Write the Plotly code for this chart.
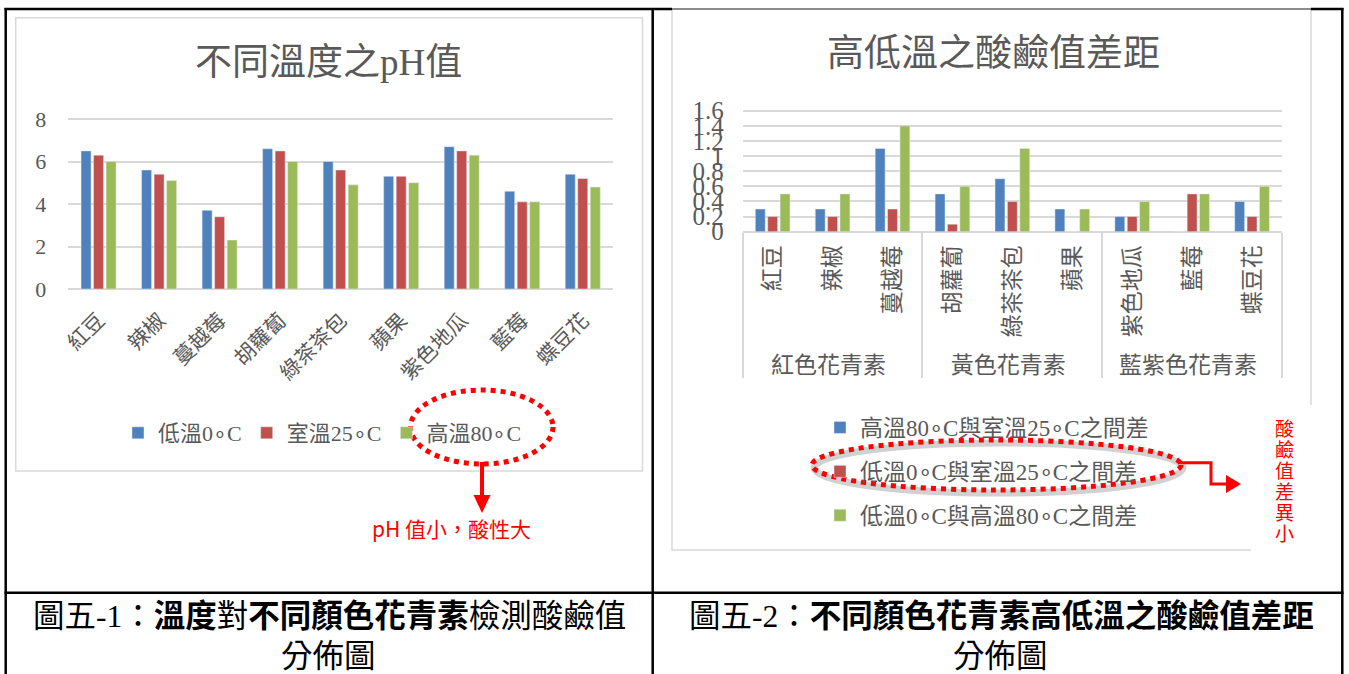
import plotly.graph_objects as go

W, H = 1349, 674

def px(x):
    return x / W

def py(y):
    return 1 - y / H

# ---------------- data ----------------
categories = ["紅豆", "辣椒", "蔓越莓", "胡蘿蔔", "綠茶茶包", "蘋果", "紫色地瓜", "藍莓", "蝶豆花"]
groups = ["紅色花青素"] * 3 + ["黃色花青素"] * 3 + ["藍紫色花青素"] * 3

ph_low = [6.5, 5.6, 3.7, 6.6, 6.0, 5.3, 6.7, 4.6, 5.4]
ph_room = [6.3, 5.4, 3.4, 6.5, 5.6, 5.3, 6.5, 4.1, 5.2]
ph_high = [6.0, 5.1, 2.3, 6.0, 4.9, 5.0, 6.3, 4.1, 4.8]

diff_high_room = [0.3, 0.3, 1.1, 0.5, 0.7, 0.3, 0.2, 0.0, 0.4]
diff_low_room = [0.2, 0.2, 0.3, 0.1, 0.4, 0.0, 0.2, 0.5, 0.2]
diff_low_high = [0.5, 0.5, 1.4, 0.6, 1.1, 0.3, 0.4, 0.5, 0.6]

names_left = ["低溫0∘C", "室溫25∘C", "高溫80∘C"]
names_right = ["高溫80∘C與室溫25∘C之間差", "低溫0∘C與室溫25∘C之間差", "低溫0∘C與高溫80∘C之間差"]
colors = ["#4f81bd", "#c0504d", "#9bbb59"]

FONT = "Liberation Serif, Noto Sans CJK TC, serif"
GRAY = "#595959"
GRID = "#d9d9d9"

fig = go.Figure()

for name, vals, c in zip(names_left, [ph_low, ph_room, ph_high], colors):
    fig.add_trace(go.Bar(x=categories, y=vals, name=name, marker_color=c,
                         xaxis="x", yaxis="y", legend="legend", hoverinfo="skip"))

for i, (name, vals, c) in enumerate(zip(names_right, [diff_high_room, diff_low_room, diff_low_high], colors)):
    fig.add_trace(go.Bar(x=[groups, categories], y=vals, name=name, marker_color=c,
                         xaxis="x2", yaxis="y2", legend="legend2", legendgroup=f"g{i}",
                         hoverinfo="skip"))

shapes = []

def line(x0, y0, x1, y1, color="black", width=2.5, dash=None):
    d = dict(type="line", xref="paper", yref="paper", x0=px(x0), y0=py(y0), x1=px(x1), y1=py(y1),
             line=dict(color=color, width=width))
    if dash:
        d["line"]["dash"] = dash
    shapes.append(d)

# chart frames
shapes.append(dict(type="rect", xref="paper", yref="paper", x0=px(15.7), y0=py(471), x1=px(642.5), y1=py(17.7),
                   line=dict(color=GRID, width=1.5), layer="below"))
shapes.append(dict(type="rect", xref="paper", yref="paper", x0=px(672), y0=py(550), x1=px(1311), y1=py(9),
                   line=dict(color=GRID, width=1.5), layer="below"))
# white cover for the red side note
shapes.append(dict(type="rect", xref="paper", yref="paper", x0=px(1251), y0=py(562), x1=px(1330), y1=py(405),
                   line=dict(width=0), fillcolor="white"))
line(672, 9, 1311, 9, color="#8c8c8c", width=2)

# table lines
line(4.5, 9, 672, 9)
line(1311, 9, 1343.5, 9)
line(5.7, 8, 5.7, 674)
line(652.7, 8, 652.7, 674)
line(1342.3, 8, 1342.3, 674)
line(4.5, 592.7, 1343.5, 592.7)

# left dotted ellipse + arrow
shapes.append(dict(type="circle", xref="paper", yref="paper", x0=px(410.5), x1=px(553), y0=py(464), y1=py(390),
                   line=dict(color="red", width=5, dash="dot")))
line(482, 462, 482, 497, color="red", width=4)
shapes.append(dict(type="path", xref="paper", yref="paper",
                   path=f"M {px(473.5)} {py(495)} L {px(490.5)} {py(495)} L {px(482)} {py(513)} Z",
                   fillcolor="red", line=dict(width=0)))

# right dotted ellipse (with soft shadow) + elbow arrow
shapes.append(dict(type="circle", xref="paper", yref="paper", x0=px(814), x1=px(1183), y0=py(493), y1=py(443),
                   line=dict(color="rgba(0,0,0,0.18)", width=7)))
shapes.append(dict(type="circle", xref="paper", yref="paper", x0=px(812), x1=px(1181), y0=py(490), y1=py(440),
                   line=dict(color="red", width=5, dash="dot")))
shapes.append(dict(type="path", xref="paper", yref="paper",
                   path=f"M {px(1178)} {py(462.7)} L {px(1211)} {py(462.7)} L {px(1211)} {py(484)} L {px(1228)} {py(484)}",
                   line=dict(color="red", width=3)))
shapes.append(dict(type="path", xref="paper", yref="paper",
                   path=f"M {px(1226)} {py(475)} L {px(1226)} {py(493)} L {px(1241)} {py(484)} Z",
                   fillcolor="red", line=dict(width=0)))

annotations = []

def text(x, y, s, size, color=GRAY, family=FONT, xanchor="center"):
    annotations.append(dict(xref="paper", yref="paper", x=px(x), y=py(y), text=s, showarrow=False,
                            xanchor=xanchor, yanchor="middle", font=dict(size=size, color=color, family=family)))

text(328, 63, "不同溫度之pH值", 37)
text(993, 54, "高低溫之酸鹼值差距", 37)
text(451, 528, "pH 值小，酸性大", 21, color="red", family="Noto Sans CJK TC, sans-serif")
for i, ch in enumerate("酸鹼值差異小"):
    text(1284, 427.5 + 21 * i, ch, 19, color="red", family="Noto Sans CJK TC, sans-serif")

text(329, 616, "圖五-1：<b>溫度</b>對<b>不同顏色花青素</b>檢測酸鹼值", 31.5, color="black")
text(328, 656, "分佈圖", 31.5, color="black")
text(1001, 616, "圖五-2：<b>不同顏色花青素高低溫之酸鹼值差距</b>", 31.5, color="black")
text(1000, 656, "分佈圖", 31.5, color="black")

# plot areas: top of each domain sits 2px above the top gridline so that line is drawn
L_TOP, L_ZERO, L_MAXV = 119, 289, 8
R_TOP, R_ZERO, R_MAXV = 110.7, 231.7, 1.6
l_range_top = L_MAXV * (L_ZERO - (L_TOP - 2)) / (L_ZERO - L_TOP)
r_range_top = R_MAXV * (R_ZERO - (R_TOP - 2)) / (R_ZERO - R_TOP)

fig.update_layout(
    width=W, height=H,
    margin=dict(l=0, r=0, t=0, b=0, pad=0, autoexpand=False),
    paper_bgcolor="white", plot_bgcolor="white",
    font=dict(family=FONT, color=GRAY),
    barmode="group", bargap=0.38, bargroupgap=0.2,
    showlegend=True,
    xaxis=dict(domain=[px(68.3), px(613)], anchor="y", type="category", tickangle=-45,
               tickfont=dict(size=21, color=GRAY), showgrid=False, showline=False, ticks="",
               ticklabelstandoff=14, automargin=False),
    yaxis=dict(domain=[py(L_ZERO), py(L_TOP - 2)], anchor="x", range=[0, l_range_top], dtick=2,
               gridcolor=GRID, gridwidth=1.5, zeroline=True, zerolinecolor=GRID, zerolinewidth=1.5,
               tickfont=dict(size=22, color=GRAY), ticks="", ticklabelstandoff=21, showline=False,
               automargin=False),
    xaxis2=dict(domain=[px(742.7), px(1282)], anchor="y2", type="multicategory", tickangle=-90,
                tickfont=dict(size=23, color=GRAY), showgrid=False, showline=False, ticks="",
                ticklabelstandoff=8,
                showdividers=True, dividercolor=GRID, dividerwidth=1.5, automargin=False),
    yaxis2=dict(domain=[py(R_ZERO), py(R_TOP - 2)], anchor="x2", range=[0, r_range_top], dtick=0.2,
                gridcolor=GRID, gridwidth=1.5, zeroline=True, zerolinecolor=GRID, zerolinewidth=1.5,
                tickfont=dict(size=25, color=GRAY), ticks="", ticklabelstandoff=18, showline=False,
                automargin=False),
    legend=dict(orientation="h", x=px(118), y=py(433), xanchor="left", yanchor="middle",
                font=dict(size=22, color=GRAY), bgcolor="rgba(0,0,0,0)", traceorder="normal"),
    legend2=dict(orientation="v", x=px(820), y=py(406), xanchor="left", yanchor="top",
                 font=dict(size=23, color=GRAY), bgcolor="rgba(0,0,0,0)", tracegroupgap=11,
                 traceorder="grouped"),
    shapes=shapes,
    annotations=annotations,
)

fig.write_html("out.html",
               post_script="document.body.style.margin='0';document.body.style.padding='0';")
